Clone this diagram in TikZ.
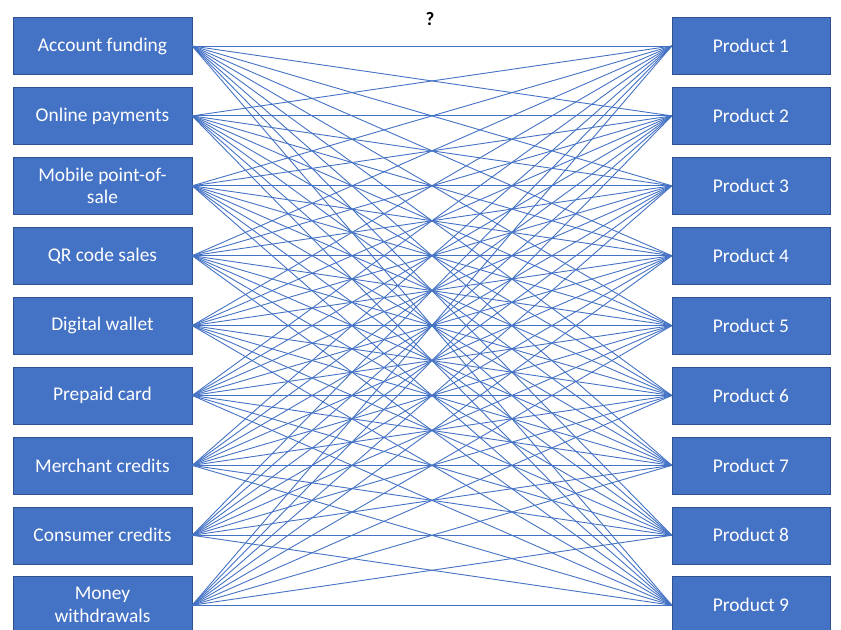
\documentclass[tikz,border=0pt]{standalone}
\usepackage{fontspec}
\setmainfont{Carlito}
\usetikzlibrary{positioning}
\definecolor{boxblue}{HTML}{4472C4}
\definecolor{boxedge}{HTML}{2F528F}
\tikzset{
  channel/.style={draw=boxedge, fill=boxblue, text=white, minimum width=179bp,
    minimum height=57bp, align=center, inner sep=1pt,
    font=\fontsize{19.5}{23}\selectfont},
  product/.style={channel, minimum width=158bp},
  link/.style={draw=boxblue, line width=0.9bp}
}

\begin{document}
\begin{tikzpicture}[x=1bp, y=-1bp, node distance=12.5bp]
\useasboundingbox (0,0) rectangle (841,630);

% ----------------- Left column -----------------
\node (L1) [channel] at (102.5,46) {Account funding};
\node (L2) [channel, below=of L1] {Online payments};
\node (L3) [channel, below=of L2] {Mobile point-of-\\sale};
\node (L4) [channel, below=of L3] {QR code sales};
\node (L5) [channel, below=of L4] {Digital wallet};
\node (L6) [channel, below=of L5] {Prepaid card};
\node (L7) [channel, below=of L6] {Merchant credits};
\node (L8) [channel, below=of L7] {Consumer credits};
\node (L9) [channel, below=of L8] {Money\\withdrawals};

% ----------------- Right column -----------------
\node (R1) [product] at (751,46) {Product 1};
\node (R2) [product, below=of R1] {Product 2};
\node (R3) [product, below=of R2] {Product 3};
\node (R4) [product, below=of R3] {Product 4};
\node (R5) [product, below=of R4] {Product 5};
\node (R6) [product, below=of R5] {Product 6};
\node (R7) [product, below=of R6] {Product 7};
\node (R8) [product, below=of R7] {Product 8};
\node (R9) [product, below=of R8] {Product 9};

\node (q) [font=\fontsize{19}{21}\selectfont\bfseries] at (430,19) {?};

% ----------------- Links -----------------
\foreach \i in {1,...,9}
  \foreach \j in {1,...,9}
    \draw[link] (L\i.east) -- (R\j.west);

\end{tikzpicture}
\end{document}
